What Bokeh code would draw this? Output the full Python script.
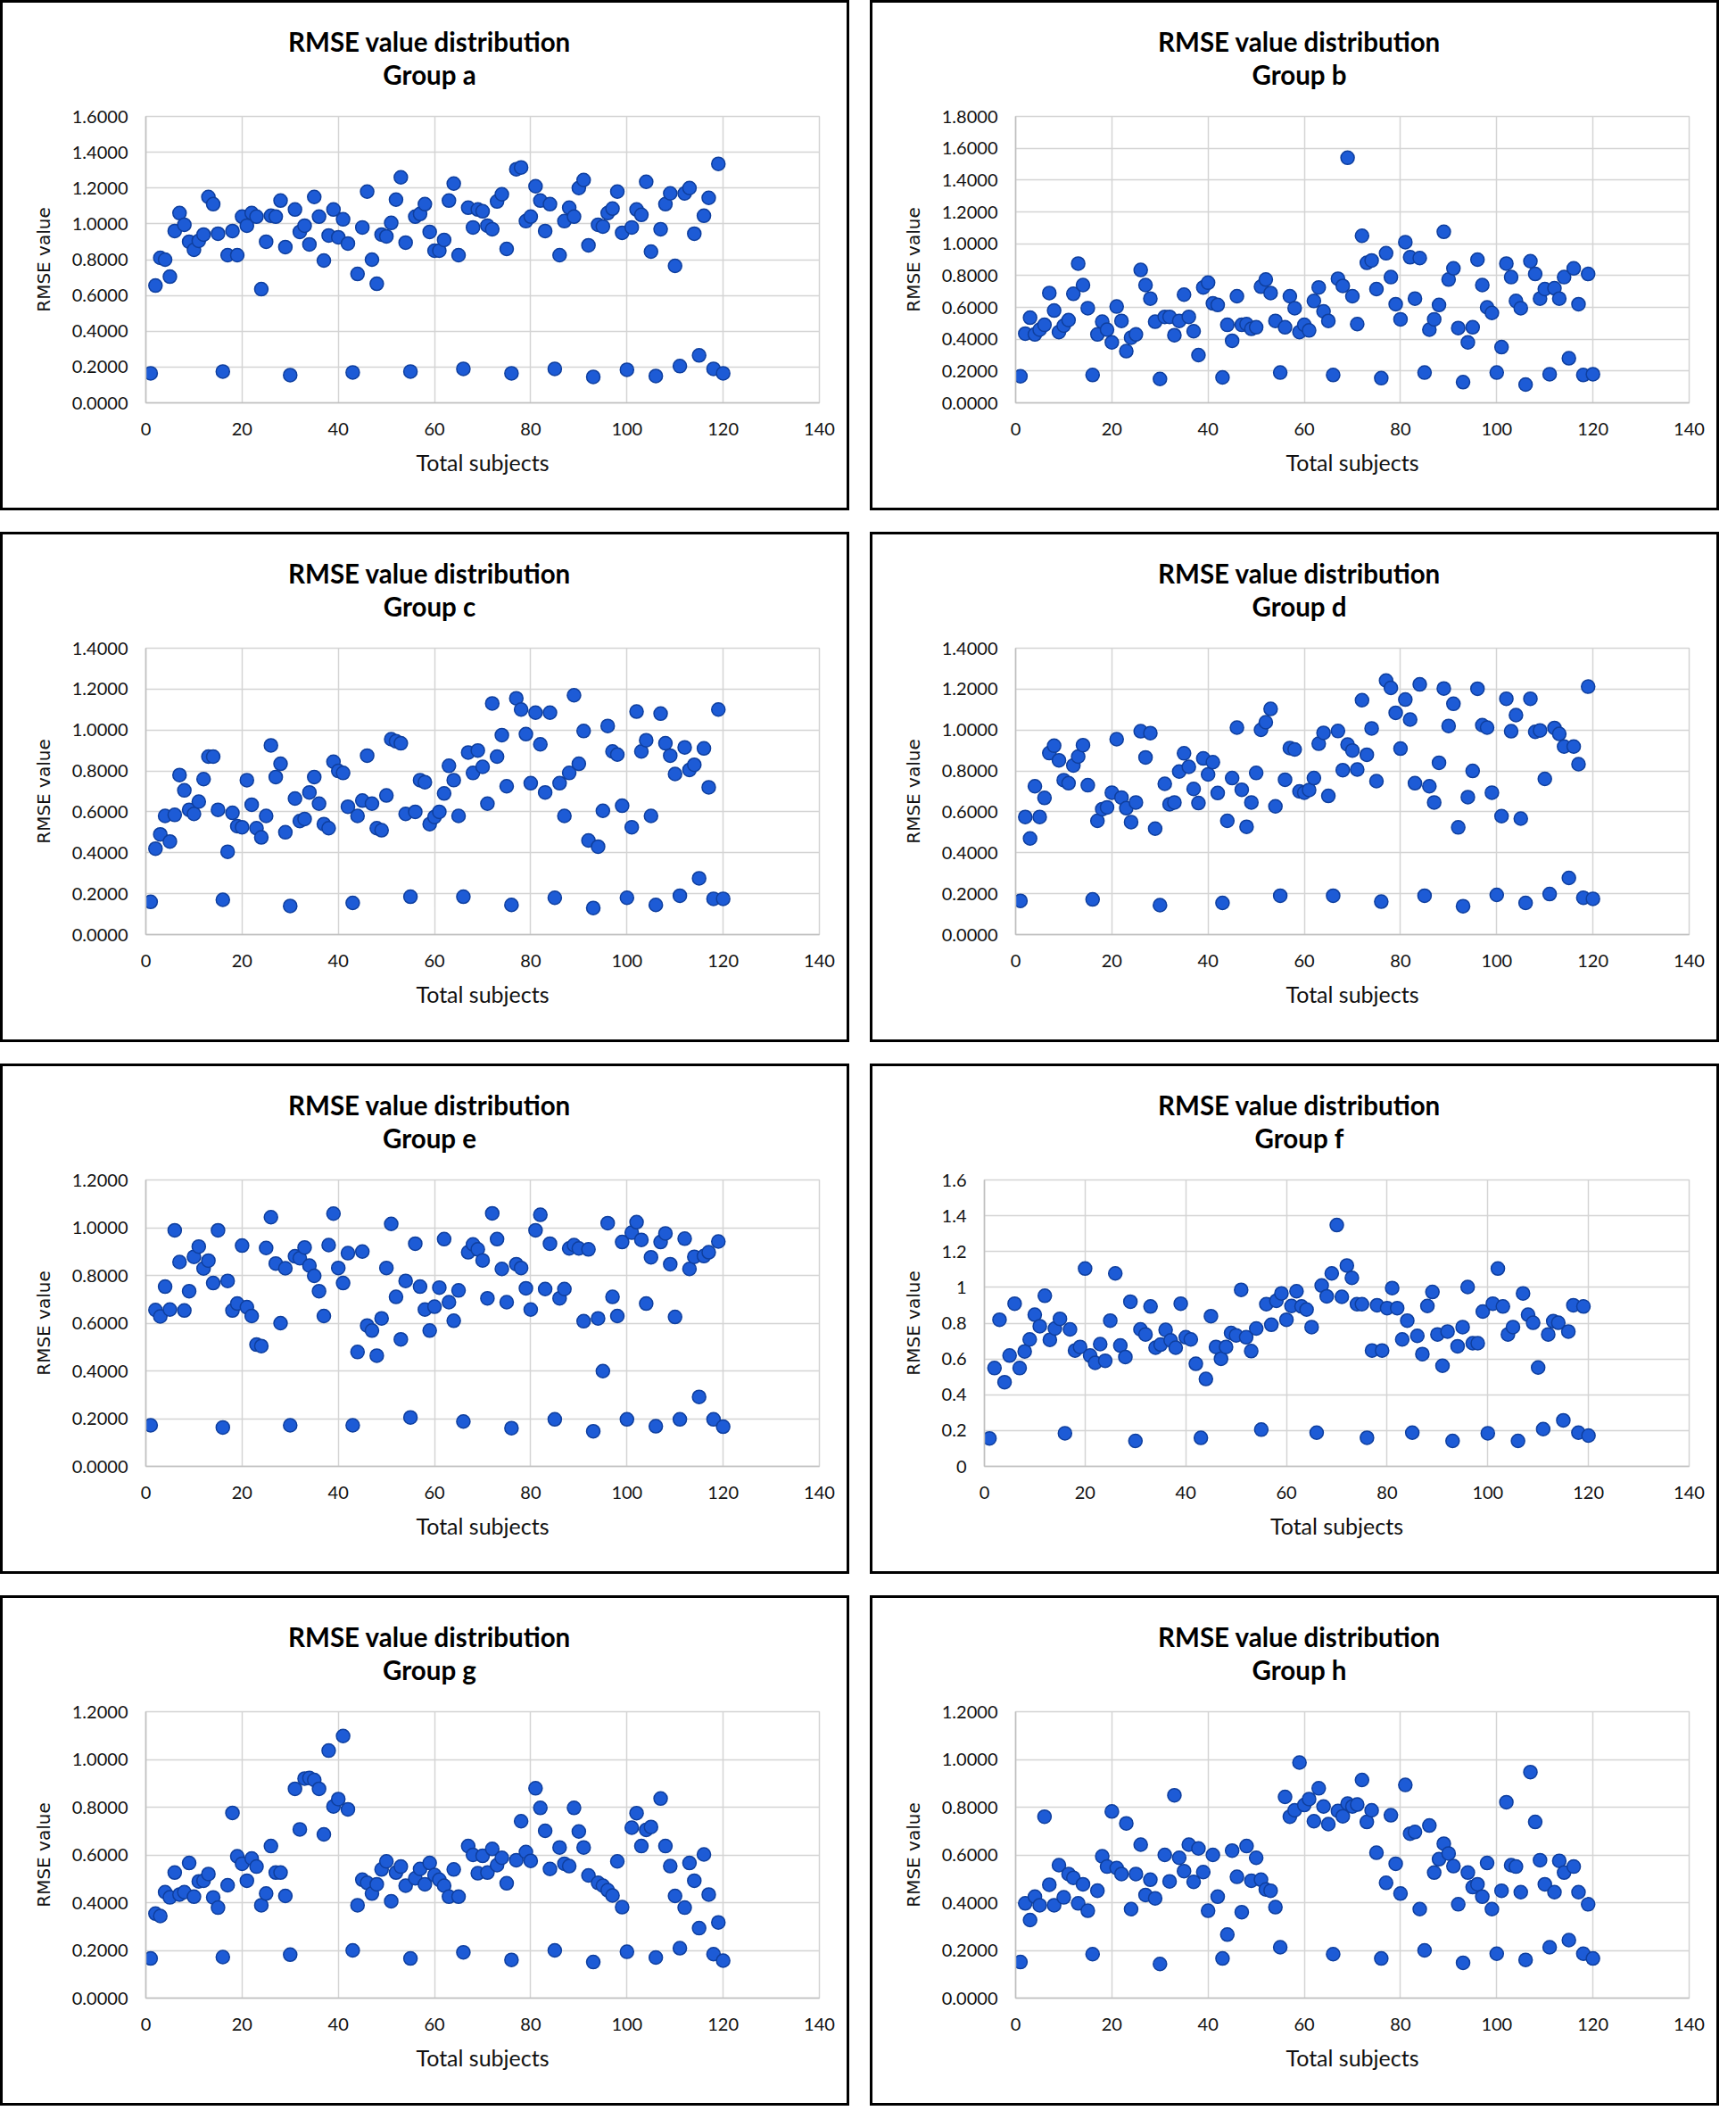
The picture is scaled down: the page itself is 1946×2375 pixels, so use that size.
from bokeh.plotting import figure
from bokeh.layouts import column, row
from bokeh.models import Range1d, FixedTicker, CustomJSTickFormatter, ColumnDataSource
from bokeh.core.properties import value
from bokeh.embed import file_html
from bokeh.resources import INLINE

subjects = list(range(1, 121))
x_ticks = [0, 20, 40, 60, 80, 100, 120, 140]

group_a = [0.165, 0.655, 0.81, 0.80, 0.705, 0.96, 1.06, 0.995, 0.90, 0.855,
           0.905, 0.94, 1.15, 1.11, 0.945, 0.175, 0.825, 0.96, 0.825, 1.04,
           0.99, 1.06, 1.04, 0.635, 0.90, 1.045, 1.04, 1.13, 0.87, 0.155,
           1.08, 0.955, 0.99, 0.885, 1.15, 1.04, 0.795, 0.935, 1.08, 0.925,
           1.025, 0.89, 0.17, 0.72, 0.98, 1.18, 0.80, 0.665, 0.94, 0.93,
           1.005, 1.135, 1.26, 0.895, 0.175, 1.04, 1.055, 1.11, 0.955, 0.85,
           0.85, 0.91, 1.13, 1.225, 0.825, 0.19, 1.09, 0.98, 1.08, 1.07,
           0.99, 0.97, 1.125, 1.165, 0.86, 0.165, 1.305, 1.315, 1.015, 1.04,
           1.21, 1.13, 0.96, 1.11, 0.19, 0.825, 1.015, 1.09, 1.04, 1.20,
           1.245, 0.88, 0.145, 0.995, 0.985, 1.06, 1.085, 1.18, 0.95, 0.185,
           0.98, 1.08, 1.05, 1.235, 0.845, 0.15, 0.97, 1.11, 1.17, 0.765,
           0.205, 1.17, 1.20, 0.945, 0.265, 1.045, 1.145, 0.19, 1.335, 0.165]

group_b = [0.167, 0.435, 0.535, 0.43, 0.46, 0.49, 0.69, 0.58, 0.445, 0.485,
           0.52, 0.685, 0.875, 0.74, 0.595, 0.175, 0.43, 0.51, 0.46, 0.38,
           0.605, 0.515, 0.325, 0.41, 0.43, 0.835, 0.74, 0.655, 0.51, 0.15,
           0.54, 0.54, 0.425, 0.515, 0.68, 0.54, 0.45, 0.30, 0.725, 0.755,
           0.625, 0.615, 0.16, 0.49, 0.39, 0.67, 0.49, 0.495, 0.465, 0.475,
           0.73, 0.775, 0.69, 0.515, 0.19, 0.475, 0.67, 0.595, 0.445, 0.49,
           0.455, 0.64, 0.725, 0.575, 0.515, 0.175, 0.78, 0.735, 1.54, 0.67,
           0.495, 1.05, 0.88, 0.895, 0.715, 0.155, 0.94, 0.79, 0.62, 0.525,
           1.01, 0.915, 0.655, 0.91, 0.19, 0.46, 0.525, 0.615, 1.075, 0.775,
           0.845, 0.47, 0.13, 0.38, 0.475, 0.90, 0.74, 0.60, 0.565, 0.19,
           0.35, 0.875, 0.79, 0.64, 0.595, 0.115, 0.89, 0.81, 0.655, 0.715,
           0.18, 0.72, 0.655, 0.79, 0.28, 0.845, 0.62, 0.175, 0.81, 0.18]

group_c = [0.16, 0.42, 0.49, 0.58, 0.455, 0.585, 0.78, 0.705, 0.61, 0.59,
           0.65, 0.76, 0.87, 0.87, 0.61, 0.17, 0.405, 0.595, 0.53, 0.525,
           0.755, 0.635, 0.52, 0.475, 0.58, 0.925, 0.77, 0.835, 0.50, 0.14,
           0.665, 0.555, 0.565, 0.695, 0.77, 0.64, 0.54, 0.52, 0.845, 0.80,
           0.79, 0.625, 0.155, 0.58, 0.655, 0.875, 0.64, 0.52, 0.51, 0.68,
           0.955, 0.945, 0.935, 0.59, 0.185, 0.60, 0.755, 0.745, 0.54, 0.575,
           0.60, 0.69, 0.825, 0.755, 0.58, 0.185, 0.89, 0.79, 0.90, 0.82,
           0.64, 1.13, 0.87, 0.975, 0.725, 0.145, 1.155, 1.10, 0.98, 0.74,
           1.085, 0.93, 0.695, 1.085, 0.18, 0.74, 0.58, 0.79, 1.17, 0.835,
           0.995, 0.46, 0.13, 0.43, 0.605, 1.02, 0.895, 0.88, 0.63, 0.18,
           0.525, 1.09, 0.895, 0.95, 0.58, 0.145, 1.08, 0.935, 0.875, 0.785,
           0.19, 0.915, 0.805, 0.83, 0.275, 0.91, 0.72, 0.175, 1.10, 0.175]

group_d = [0.165, 0.575, 0.47, 0.725, 0.575, 0.668, 0.887, 0.923, 0.852, 0.755,
           0.74, 0.827, 0.87, 0.926, 0.73, 0.172, 0.556, 0.613, 0.622, 0.694,
           0.955, 0.67, 0.618, 0.55, 0.646, 0.994, 0.866, 0.985, 0.518, 0.144,
           0.737, 0.637, 0.646, 0.797, 0.886, 0.82, 0.712, 0.643, 0.861, 0.783,
           0.843, 0.692, 0.155, 0.556, 0.765, 1.012, 0.708, 0.527, 0.646, 0.79,
           1.001, 1.038, 1.103, 0.627, 0.19, 0.757, 0.912, 0.905, 0.70, 0.694,
           0.707, 0.765, 0.933, 0.986, 0.678, 0.19, 0.995, 0.804, 0.929, 0.90,
           0.807, 1.146, 0.879, 1.008, 0.75, 0.161, 1.242, 1.206, 1.084, 0.909,
           1.149, 1.051, 0.74, 1.223, 0.19, 0.725, 0.646, 0.84, 1.203, 1.02,
           1.128, 0.524, 0.139, 0.672, 0.80, 1.202, 1.024, 1.012, 0.694, 0.194,
           0.579, 1.153, 0.994, 1.073, 0.567, 0.155, 1.153, 0.991, 0.998, 0.761,
           0.198, 1.01, 0.981, 0.919, 0.277, 0.919, 0.833, 0.18, 1.212, 0.175]

group_e = [0.172, 0.655, 0.628, 0.753, 0.657, 0.989, 0.856, 0.653, 0.734, 0.878,
           0.921, 0.829, 0.862, 0.768, 0.989, 0.163, 0.777, 0.653, 0.682, 0.925,
           0.667, 0.63, 0.51, 0.504, 0.915, 1.044, 0.85, 0.60, 0.83, 0.172,
           0.88, 0.872, 0.917, 0.841, 0.798, 0.734, 0.63, 0.927, 1.059, 0.831,
           0.768, 0.893, 0.172, 0.479, 0.90, 0.59, 0.569, 0.464, 0.62, 0.831,
           1.016, 0.71, 0.532, 0.777, 0.205, 0.933, 0.753, 0.657, 0.569, 0.669,
           0.749, 0.952, 0.688, 0.61, 0.737, 0.188, 0.897, 0.93, 0.909, 0.863,
           0.704, 1.06, 0.952, 0.827, 0.688, 0.16, 0.847, 0.831, 0.746, 0.657,
           0.989, 1.054, 0.743, 0.933, 0.197, 0.704, 0.743, 0.913, 0.927, 0.913,
           0.608, 0.909, 0.147, 0.62, 0.399, 1.019, 0.71, 0.63, 0.94, 0.197,
           0.979, 1.023, 0.949, 0.682, 0.876, 0.168, 0.94, 0.976, 0.847, 0.626,
           0.197, 0.954, 0.827, 0.878, 0.291, 0.881, 0.897, 0.197, 0.942, 0.166]

group_f = [0.156, 0.549, 0.819, 0.47, 0.619, 0.909, 0.549, 0.642, 0.709, 0.847,
           0.783, 0.953, 0.707, 0.77, 0.824, 0.185, 0.765, 0.647, 0.667, 1.105,
           0.619, 0.578, 0.683, 0.59, 0.814, 1.078, 0.675, 0.611, 0.92, 0.142,
           0.765, 0.737, 0.893, 0.663, 0.68, 0.762, 0.704, 0.663, 0.909, 0.721,
           0.709, 0.573, 0.159, 0.488, 0.839, 0.667, 0.601, 0.667, 0.745, 0.732,
           0.986, 0.721, 0.644, 0.77, 0.205, 0.906, 0.791, 0.925, 0.966, 0.819,
           0.896, 0.978, 0.893, 0.876, 0.778, 0.188, 1.01, 0.95, 1.078, 1.348,
           0.947, 1.122, 1.053, 0.906, 0.906, 0.16, 0.647, 0.90, 0.647, 0.884,
           0.996, 0.884, 0.709, 0.814, 0.188, 0.729, 0.627, 0.896, 0.974, 0.737,
           0.562, 0.753, 0.142, 0.671, 0.778, 1.002, 0.688, 0.688, 0.865, 0.185,
           0.909, 1.105, 0.893, 0.737, 0.778, 0.142, 0.966, 0.847, 0.802, 0.552,
           0.208, 0.737, 0.811, 0.802, 0.257, 0.753, 0.90, 0.188, 0.893, 0.172]

group_g = [0.166, 0.354, 0.344, 0.444, 0.422, 0.526, 0.434, 0.444, 0.566, 0.425,
           0.489, 0.492, 0.52, 0.422, 0.379, 0.172, 0.473, 0.776, 0.594, 0.563,
           0.492, 0.585, 0.551, 0.389, 0.438, 0.637, 0.526, 0.526, 0.428, 0.182,
           0.877, 0.707, 0.92, 0.922, 0.914, 0.877, 0.686, 1.037, 0.803, 0.834,
           1.098, 0.791, 0.20, 0.389, 0.496, 0.483, 0.438, 0.477, 0.539, 0.573,
           0.406, 0.526, 0.551, 0.471, 0.166, 0.502, 0.541, 0.477, 0.566, 0.516,
           0.496, 0.471, 0.425, 0.539, 0.425, 0.192, 0.637, 0.60, 0.523, 0.596,
           0.526, 0.625, 0.557, 0.588, 0.481, 0.16, 0.578, 0.741, 0.612, 0.575,
           0.879, 0.797, 0.701, 0.541, 0.20, 0.631, 0.563, 0.553, 0.797, 0.698,
           0.631, 0.514, 0.151, 0.483, 0.471, 0.452, 0.43, 0.573, 0.381, 0.194,
           0.714, 0.775, 0.637, 0.705, 0.717, 0.17, 0.836, 0.637, 0.553, 0.428,
           0.209, 0.379, 0.566, 0.492, 0.293, 0.602, 0.434, 0.184, 0.317, 0.157]

group_h = [0.151, 0.397, 0.327, 0.425, 0.389, 0.76, 0.475, 0.389, 0.557, 0.422,
           0.52, 0.504, 0.397, 0.477, 0.366, 0.184, 0.45, 0.594, 0.551, 0.782,
           0.545, 0.52, 0.732, 0.373, 0.52, 0.643, 0.432, 0.496, 0.418, 0.143,
           0.60, 0.489, 0.85, 0.588, 0.532, 0.643, 0.487, 0.627, 0.528, 0.366,
           0.60, 0.425, 0.166, 0.266, 0.618, 0.508, 0.36, 0.637, 0.492, 0.588,
           0.496, 0.455, 0.45, 0.381, 0.213, 0.843, 0.76, 0.787, 0.987, 0.809,
           0.834, 0.741, 0.879, 0.803, 0.729, 0.184, 0.784, 0.762, 0.815, 0.803,
           0.811, 0.914, 0.738, 0.787, 0.609, 0.166, 0.483, 0.766, 0.563, 0.438,
           0.893, 0.689, 0.696, 0.373, 0.20, 0.723, 0.526, 0.582, 0.647, 0.606,
           0.553, 0.393, 0.148, 0.526, 0.465, 0.477, 0.425, 0.566, 0.373, 0.186,
           0.45, 0.821, 0.557, 0.551, 0.444, 0.16, 0.947, 0.738, 0.578, 0.477,
           0.213, 0.444, 0.575, 0.526, 0.243, 0.551, 0.444, 0.186, 0.393, 0.166]

group_names = ["a", "b", "c", "d", "e", "f", "g", "h"]
group_values = [group_a, group_b, group_c, group_d, group_e, group_f, group_g, group_h]
y_max_values = [1.6, 1.8, 1.4, 1.4, 1.2, 1.6, 1.2, 1.2]
general_format = [False, False, False, False, False, True, False, False]
title_line1 = "RMSE value distribution"

# layout (pixels)
W, H = 946, 566           # inner size of one bordered panel
TH = 107                  # height of the title strip
RIGHT, TOP, BOTTOM = 31, 20, 118
GRID = "#D4D4D4"
TITLE_CX = 478            # title centre, px from panel left
TITLE_Y1 = 43             # centre of title line 1, px from panel top
TITLE_Y2 = 80             # centre of title line 2, px from panel top


def make_title(name, left):
    # the strip shares its frame edges with the plot below it (Bokeh aligns them),
    # so its x range is expressed in pixels measured from the frame's left edge
    fw = W - left - RIGHT
    tf = figure(width=W, height=TH, x_range=Range1d(0, fw), y_range=Range1d(0, TH),
                output_backend="svg", toolbar_location=None, title=None,
                x_axis_location=None, y_axis_location=None,
                min_border_left=left, min_border_right=RIGHT,
                min_border_top=0, min_border_bottom=0)
    tf.xgrid.visible = False
    tf.ygrid.visible = False
    tf.outline_line_color = None
    tf.background_fill_color = "white"
    tf.border_fill_color = "white"
    src = ColumnDataSource(data=dict(x=[TITLE_CX - left, TITLE_CX - left],
                                     y=[TH - TITLE_Y1, TH - TITLE_Y2],
                                     text=[title_line1, "Group " + name]))
    tf.text(x="x", y="y", text="text", source=src, text_align="center",
            text_baseline="middle", text_font=value("Lato"),
            text_font_size=value("29.5px"), text_font_style=value("bold"),
            text_color="#000000")
    return tf


def make_plot(values, ymax, general, left):
    assert len(values) == 120
    p = figure(width=W, height=H - TH, x_range=Range1d(0, 140), y_range=Range1d(0, ymax),
               output_backend="svg", toolbar_location=None, title=None,
               min_border_left=left, min_border_right=RIGHT,
               min_border_top=TOP, min_border_bottom=BOTTOM)
    p.background_fill_color = "white"
    p.border_fill_color = "white"
    p.outline_line_color = GRID
    p.outline_line_width = 1.5

    n = int(round(ymax / 0.2))
    y_ticks = [round(i * 0.2, 1) for i in range(n + 1)]
    p.xaxis.ticker = FixedTicker(ticks=x_ticks)
    p.yaxis.ticker = FixedTicker(ticks=y_ticks)
    if general:
        p.yaxis.formatter = CustomJSTickFormatter(code="return String(Math.round(tick*10)/10);")
    else:
        p.yaxis.formatter = CustomJSTickFormatter(code="return tick.toFixed(4);")

    for ax in (p.xaxis, p.yaxis):
        ax.major_tick_line_color = None
        ax.minor_tick_line_color = None
        ax.major_tick_out = 0
        ax.major_tick_in = 0
        ax.axis_line_color = "#BFBFBF"
        ax.axis_line_width = 1.5
        ax.major_label_text_font = "Lato"
        ax.major_label_text_font_size = "20px"
        ax.major_label_text_color = "#111111"
    p.xaxis.major_label_standoff = 22
    p.yaxis.major_label_standoff = 20

    p.xaxis.axis_label = "Total subjects"
    p.xaxis.axis_label_text_font = "Lato"
    p.xaxis.axis_label_text_font_size = "25px"
    p.xaxis.axis_label_text_font_style = "normal"
    p.xaxis.axis_label_text_color = "#111111"
    p.xaxis.axis_label_standoff = 12

    p.yaxis.axis_label = "RMSE value"
    p.yaxis.axis_label_text_font = "DejaVu Sans"
    p.yaxis.axis_label_text_font_size = "20px"
    p.yaxis.axis_label_text_font_style = "normal"
    p.yaxis.axis_label_text_color = "#111111"
    p.yaxis.axis_label_standoff = 17

    p.xgrid.grid_line_color = GRID
    p.ygrid.grid_line_color = GRID
    p.xgrid.grid_line_width = 1.5
    p.ygrid.grid_line_width = 1.5

    src = ColumnDataSource(data=dict(x=subjects, y=values))
    p.scatter(x="x", y="y", source=src, size=15, marker="circle",
              fill_color="#1D5BD6", line_color="#0F3F9E", line_width=1.5)
    return p


def make_panel(name, values, ymax, general):
    left = 125 if general else 160
    return column(make_title(name, left), make_plot(values, ymax, general, left), spacing=0,
                  styles={"border": "3px solid #000000", "background-color": "white"})


panels = [make_panel(n, v, m, g) for n, v, m, g in
          zip(group_names, group_values, y_max_values, general_format)]

layout = column(
    row(panels[0], panels[1], spacing=23),
    row(panels[2], panels[3], spacing=23),
    row(panels[4], panels[5], spacing=23),
    row(panels[6], panels[7], spacing=23),
    spacing=24,
)

open("out.html", "w").write(file_html(layout, INLINE))
